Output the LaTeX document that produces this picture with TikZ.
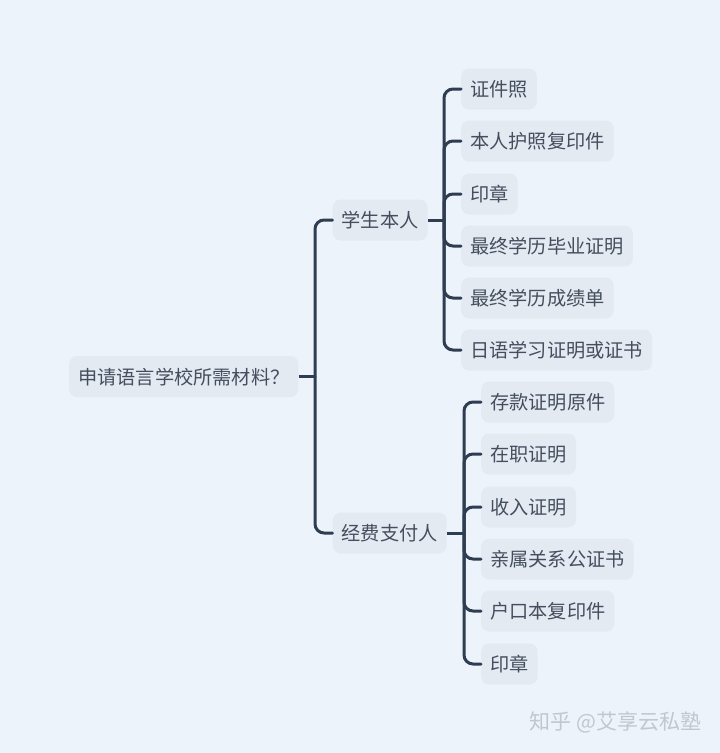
\documentclass[tikz,border=0pt]{standalone}
\usepackage{fontspec}
\setmainfont{Noto Sans CJK SC}
\definecolor{pagebg}{HTML}{ECF3FA}
\definecolor{boxbg}{HTML}{E4EAF1}
\definecolor{inkc}{HTML}{444E5E}
\definecolor{linec}{HTML}{2F3D52}
\definecolor{markc}{HTML}{BFC7D0}
\tikzset{
  x=1pt,y=-1pt,
  topic/.style={anchor=west,fill=boxbg,text=inkc,rounded corners=8pt,minimum height=41pt,
    inner xsep=9pt,inner ysep=0pt,font=\fontsize{19.2}{19.2}\selectfont,
    text height=17pt,text depth=1.5pt},
  link/.style={draw=linec,line width=3pt,rounded corners=9pt,line cap=round},
  stub/.style={draw=linec,line width=3pt}
}
\begin{document}
\begin{tikzpicture}
\fill[pagebg] (0,0) rectangle (720,753);
\useasboundingbox (0,0) rectangle (720,753);
\node[topic] (root) at (69,376.5) {申请语言学校所需材料？};
\node[topic] (stu) at (332.5,220) {学生本人};
\node[topic] (pay) at (332.5,533) {经费支付人};
\node[topic] (a1) at (461,89) {证件照};
\node[topic] (a2) at (461,141) {本人护照复印件};
\node[topic] (a3) at (461,194) {印章};
\node[topic] (a4) at (461,246) {最终学历毕业证明};
\node[topic] (a5) at (461,298) {最终学历成绩单};
\node[topic] (a6) at (461,350) {日语学习证明或证书};
\node[topic] (b1) at (481,402) {存款证明原件};
\node[topic] (b2) at (481,454) {在职证明};
\node[topic] (b3) at (481,507) {收入证明};
\node[topic] (b4) at (481,559) {亲属关系公证书};
\node[topic] (b5) at (481,611) {户口本复印件};
\node[topic] (b6) at (481,664) {印章};
\node[anchor=center,text=markc,inner sep=0pt,font=\fontsize{21}{21}\selectfont] (mark) at (615.5,722.5) {知乎 @艾享云私塾};
\coordinate (busr) at (315,376.5);
\coordinate (busa) at (444,220);
\coordinate (busb) at (464,533);
\draw[stub] (root.east) -- (busr);
\foreach \t in {stu,pay} \draw[link] (busr) -- (busr|-\t.west) -- (\t.west);
\draw[stub] (stu.east) -- (busa);
\foreach \t in {a1,a2,a3,a4,a5,a6} \draw[link] (busa) -- (busa|-\t.west) -- (\t.west);
\draw[stub] (pay.east) -- (busb);
\foreach \t in {b1,b2,b3,b4,b5,b6} \draw[link] (busb) -- (busb|-\t.west) -- (\t.west);
\end{tikzpicture}
\end{document}
